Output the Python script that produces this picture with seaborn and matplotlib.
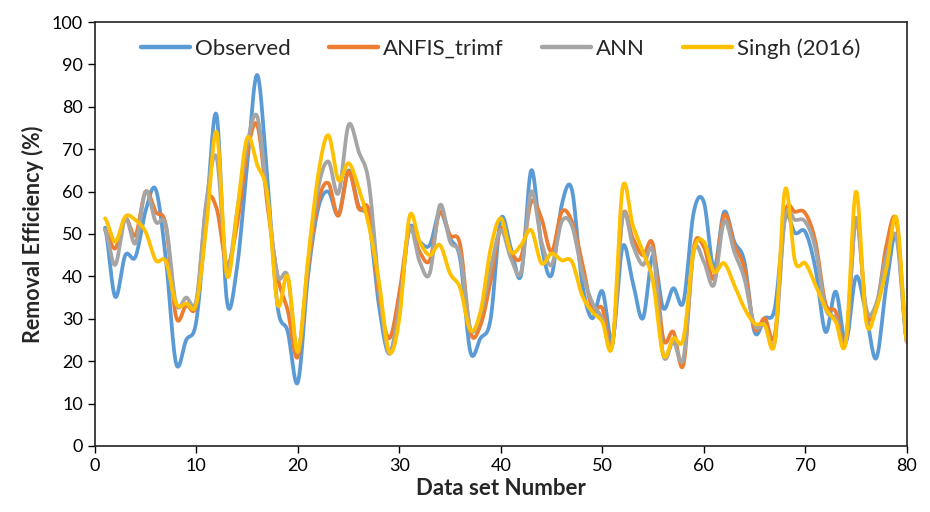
import numpy as np
import pandas as pd
import matplotlib
matplotlib.use("Agg")
import matplotlib.pyplot as plt
import seaborn as sns
from matplotlib.lines import Line2D

# ---- data ----
data_set = list(range(1, 81))
observed = [51.5, 35.2, 45, 44.6, 55.5, 60.5, 44, 19.5, 25, 29.5,
            55, 78, 34.4, 42, 66, 87.5, 63, 33, 27, 15,
            40, 56, 60, 54.5, 65, 56.5, 53, 33, 21.8, 33,
            51.3, 48.2, 47.4, 55.2, 49, 44, 22.2, 25.4, 30, 53.5,
            46.6, 40.3, 65, 47.4, 40.3, 56.8, 60.5, 38.7, 30.1, 36.5,
            25, 47, 38.7, 30.1, 45, 32.5, 37.2, 34, 55, 57.6,
            41.9, 55.2, 48.2, 43.5, 26.9, 30.1, 32.5, 53.7, 50.2, 50.5,
            41.9, 26.9, 36.4, 24.6, 39.9, 31, 20.7, 38, 49.7, 24.6]
anfis = [51, 46.6, 53.7, 49.7, 60, 55.2, 52, 30.5, 33.2, 33.5,
         57, 56, 42.7, 52, 69, 75.7, 56.9, 40, 32, 21,
         42, 57.6, 62, 54.3, 64.7, 56, 55.5, 35.6, 25.4, 36,
         51.3, 45.8, 43.8, 55.2, 49.7, 47.4, 26.9, 28.5, 38.9, 51.3,
         45.8, 44.6, 57.6, 53.7, 45.8, 55.2, 53, 43.5, 32.5, 32.5,
         24, 54.1, 49, 45, 47.4, 25.4, 26.9, 19.2, 46.6, 47,
         39.5, 54.5, 47.4, 41.9, 27.7, 30.1, 26.2, 54.5, 55.2, 54.9,
         48.2, 33.6, 31.7, 24.6, 53.7, 31.7, 32.5, 47.4, 52.9, 24.6]
ann = [51, 42.7, 53.7, 47.8, 60, 52.9, 52, 33.6, 35, 34.4,
       58, 68, 42, 55, 71, 77.7, 58.4, 40.3, 40, 22.2,
       43, 60.8, 67.1, 59.6, 75.7, 69.4, 62, 37.5, 21.8, 33,
       51.3, 43.5, 40.7, 56.8, 48.2, 45, 27.7, 31, 42, 50.9,
       44.2, 41.1, 60, 48.2, 42.7, 52.9, 52, 41.1, 33.9, 30.1,
       24, 54.1, 47.4, 42.7, 45.8, 21.5, 24.6, 20.7, 45.8, 43.5,
       38, 52.9, 45.8, 39.5, 28.5, 28.5, 24.6, 53.7, 53.3, 52.9,
       46.6, 32.5, 30.1, 24.6, 53.7, 32.5, 33.6, 45, 49, 24.6]
singh = [53.7, 48.2, 54.1, 53.3, 50.5, 43.8, 43.5, 33.6, 33.6, 33.6,
         52, 74, 40.3, 55, 72.6, 66.3, 59.2, 33.5, 40, 22.2,
         44, 63.9, 73.3, 62.7, 66.7, 60.8, 52, 38.7, 22.2, 30,
         54.1, 48.2, 45, 47.4, 40.7, 37.2, 27.3, 31.7, 46.6, 53.7,
         45.8, 47.4, 50.9, 43.1, 45.4, 43.8, 43.5, 35.6, 31.7, 29.3,
         24, 60.8, 52.1, 45.8, 38.7, 21.5, 25.4, 25.4, 45.8, 48.2,
         41.1, 43.1, 38, 32.5, 28.9, 28.5, 24.6, 60.4, 43.5, 43.1,
         38, 32.5, 29.3, 24.6, 60, 29.3, 32.5, 41.9, 53.7, 24.6]

series_names = ["Observed", "ANFIS_trimf", "ANN", "Singh (2016)"]
series_values = [observed, anfis, ann, singh]
colors = ["#5B9BD5", "#ED7D31", "#A5A5A5", "#FFC000"]


def smooth(x, y, n=24):
    """Catmull-Rom smoothing (like Excel smoothed lines) for drawing."""
    x = np.asarray(x, float)
    y = np.asarray(y, float)
    px = np.concatenate([[2 * x[0] - x[1]], x, [2 * x[-1] - x[-2]]])
    py = np.concatenate([[y[0]], y, [y[-1]]])
    xs, ys = [], []
    t = np.linspace(0, 1, n, endpoint=False)
    for i in range(len(x) - 1):
        for arr, out in ((px, xs), (py, ys)):
            p0, p1, p2, p3 = arr[i], arr[i + 1], arr[i + 2], arr[i + 3]
            out.append(0.5 * ((2 * p1) + (-p0 + p2) * t
                              + (2 * p0 - 5 * p1 + 4 * p2 - p3) * t ** 2
                              + (-p0 + 3 * p1 - 3 * p2 + p3) * t ** 3))
    xs.append([x[-1]])
    ys.append([y[-1]])
    return np.concatenate(xs), np.concatenate(ys)


frames = []
for name, vals in zip(series_names, series_values):
    sx, sy = smooth(data_set, vals)
    frames.append(pd.DataFrame({"x": sx, "y": sy, "series": name}))
df = pd.concat(frames, ignore_index=True)

sns.set_theme(style="ticks")
plt.rcParams["font.family"] = ["Lato", "DejaVu Sans"]

fig = plt.figure(figsize=(9.3, 5.12), dpi=100)
ax = fig.add_axes([0.102, 0.129, 0.873, 0.828])

sns.lineplot(data=df, x="x", y="y", hue="series", hue_order=series_names,
             palette=colors, sort=False, estimator=None, linewidth=2.7,
             ax=ax, legend=False)

ax.set_xlim(0, 80)
ax.set_ylim(0, 100)
ax.set_xticks(range(0, 81, 10))
ax.set_yticks(range(0, 101, 10))
ax.tick_params(axis="both", labelsize=13, direction="out", length=5,
               width=1, colors="black")
for s in ax.spines.values():
    s.set_visible(True)
    s.set_color("#222222")
    s.set_linewidth(1.2)

ax.set_xlabel("Data set Number", fontsize=16, fontweight="bold", labelpad=3)
ax.set_ylabel("Removal Efficiency (%)", fontsize=15.5, fontweight="bold", labelpad=6)

handles = [Line2D([0], [0], color=c, lw=3.2) for c in colors]
ax.legend(handles, series_names, ncol=4, frameon=False, loc="center",
          bbox_to_anchor=(0.5, 0.937), fontsize=16, handlelength=2.2,
          handletextpad=0.25, columnspacing=1.7)

fig.savefig("out.png", dpi=100)
